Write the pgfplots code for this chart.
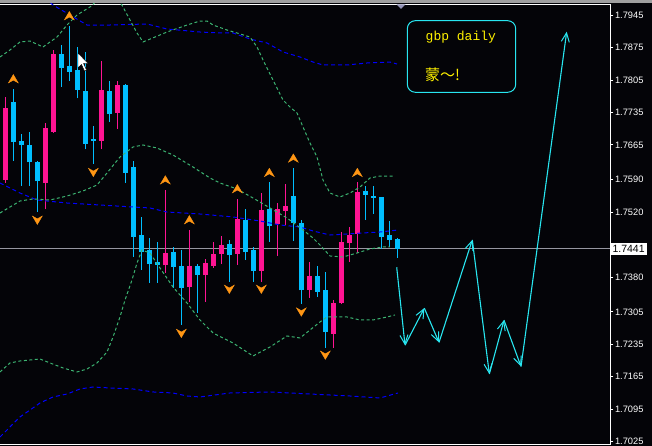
\documentclass[border=0pt]{standalone}
\usepackage{fontspec}
\setmainfont{Liberation Sans}
\newfontfamily\monofont{Liberation Mono}
\newfontfamily\cjk{Noto Sans CJK SC}
\usepackage{pgfplots}
\usepackage{pgfplotstable}
\pgfplotsset{compat=1.18}
\usetikzlibrary{arrows.meta}

\definecolor{bg}{RGB}{4,4,8}
\definecolor{bull}{RGB}{255,20,147}
\definecolor{bear}{RGB}{0,191,255}
\definecolor{bbgreen}{RGB}{60,179,113}
\definecolor{envblue}{RGB}{0,0,255}
\definecolor{frac}{RGB}{255,150,20}
\definecolor{fc}{RGB}{40,230,240}
\definecolor{pline}{RGB}{150,150,160}

% fractal arrows
\pgfdeclareplotmark{fracup}{%
  \pgfpathmoveto{\pgfqpoint{0pt}{4.5pt}}%
  \pgfpathlineto{\pgfqpoint{5pt}{-4pt}}%
  \pgfpathlineto{\pgfqpoint{0pt}{-1.2pt}}%
  \pgfpathlineto{\pgfqpoint{-5pt}{-4pt}}%
  \pgfpathclose\pgfusepathqfillstroke}
\pgfdeclareplotmark{fracdown}{%
  \pgfpathmoveto{\pgfqpoint{0pt}{-4.5pt}}%
  \pgfpathlineto{\pgfqpoint{5pt}{4pt}}%
  \pgfpathlineto{\pgfqpoint{0pt}{1.2pt}}%
  \pgfpathlineto{\pgfqpoint{-5pt}{4pt}}%
  \pgfpathclose\pgfusepathqfillstroke}

% down candles (open above close)
\pgfplotstableread{
i o h l c
2 1.7757 1.7785 1.7631 1.7671
3 1.7673 1.7688 1.7577 1.7665
4 1.7665 1.7693 1.7577 1.7627
5 1.7628 1.7630 1.7520 1.7586
8 1.7861 1.7880 1.7790 1.7831
9 1.7835 1.7921 1.7803 1.7823
10 1.7827 1.7876 1.7765 1.7784
11 1.7781 1.7865 1.7655 1.7667
12 1.7678 1.7706 1.7624 1.7674
14 1.7781 1.7803 1.7715 1.7732
16 1.7794 1.7796 1.7583 1.7605
17 1.7617 1.7630 1.7424 1.7467
18 1.7471 1.7510 1.7395 1.7435
19 1.7438 1.7464 1.7368 1.7408
20 1.7412 1.7456 1.7368 1.7406
22 1.7435 1.7445 1.7357 1.7402
23 1.7404 1.7438 1.7277 1.7357
25 1.7404 1.7408 1.7302 1.7384
29 1.7451 1.7460 1.7370 1.7428
31 1.7503 1.7527 1.7417 1.7435
32 1.7438 1.7444 1.7370 1.7394
34 1.7527 1.7585 1.7456 1.7491
37 1.7555 1.7615 1.7458 1.7497
38 1.7497 1.7503 1.7322 1.7351
40 1.7382 1.7404 1.7338 1.7348
41 1.7352 1.7391 1.7228 1.7262
46 1.7566 1.7576 1.7503 1.7557
47 1.7555 1.7576 1.7516 1.7550
48 1.7553 1.7553 1.7440 1.7466
49 1.7471 1.7501 1.7445 1.7460
50 1.7462 1.7464 1.7421 1.7441
}\bear

% up candles
\pgfplotstableread{
i o h l c
1 1.7589 1.7768 1.7583 1.7745
6 1.7583 1.7712 1.7526 1.7701
7 1.7693 1.7870 1.7691 1.7861
13 1.7674 1.7846 1.7655 1.7783
15 1.7734 1.7803 1.7700 1.7794
21 1.7405 1.7568 1.7389 1.7432
24 1.7359 1.7481 1.7327 1.7404
26 1.7384 1.7419 1.7327 1.7410
27 1.7404 1.7456 1.7400 1.7430
28 1.7430 1.7468 1.7408 1.7449
30 1.7430 1.7548 1.7406 1.7505
33 1.7394 1.7562 1.7370 1.7525
35 1.7494 1.7540 1.7426 1.7527
36 1.7523 1.7581 1.7492 1.7534
39 1.7353 1.7412 1.7335 1.7382
42 1.7258 1.7331 1.7228 1.7324
43 1.7323 1.7477 1.7321 1.7456
44 1.7453 1.7488 1.7412 1.7471
45 1.7473 1.7585 1.7432 1.7563
}\bull

\begin{document}
\begin{tikzpicture}
\path[use as bounding box, fill=bg] (0,0) rectangle (652pt,446pt);
\begin{axis}[
  at={(-2pt,2pt)}, anchor=south west,
  scale only axis, width=612.3pt, height=440pt,
  xmin=0.083, xmax=76.62, ymin=1.70200, ymax=1.79687,
  axis line style={white, line width=0.9pt},
  xtick=\empty,
  ytick={1.7025,1.7095,1.7165,1.7235,1.7305,1.7380,1.7520,1.7590,1.7665,1.7735,1.7805,1.7875,1.7945},
  yticklabels={1.7025,1.7095,1.7165,1.7235,1.7305,1.7380,1.7520,1.7590,1.7665,1.7735,1.7805,1.7875,1.7945},
  ytick pos=right, yticklabel pos=right,
  tick align=outside, major tick length=3pt,
  every tick/.style={white, line width=0.8pt},
  yticklabel style={text=white, font=\fontsize{9.3}{10}\selectfont, inner sep=1.5pt},
  /pgf/number format/assume math mode=true,
  clip mode=individual,
  candle/.style={only marks, mark size=0pt, mark options={draw=none, fill=none}, forget plot},
]

% current price line
\addplot[pline, line width=0.8pt, forget plot] coordinates {(0.083,1.7441) (76.62,1.7441)};

% wicks
\addplot[candle,
  error bars/.cd, y dir=plus, y explicit, error mark=none,
  error bar style={line width=1pt, bear}]
  table[x=i, y=l, y error plus expr=\thisrow{h}-\thisrow{l}] {\bear};
\addplot[candle,
  error bars/.cd, y dir=plus, y explicit, error mark=none,
  error bar style={line width=1pt, bull}]
  table[x=i, y=l, y error plus expr=\thisrow{h}-\thisrow{l}] {\bull};
% bodies
\addplot[candle,
  error bars/.cd, y dir=plus, y explicit, error mark=none,
  error bar style={line width=5.5pt, bear}]
  table[x=i, y=c, y error plus expr=\thisrow{o}-\thisrow{c}] {\bear};
\addplot[candle,
  error bars/.cd, y dir=plus, y explicit, error mark=none,
  error bar style={line width=5.5pt, bull}]
  table[x=i, y=o, y error plus expr=\thisrow{c}-\thisrow{o}] {\bull};

% envelope (blue)
\addplot[envblue, line width=1pt, dash pattern=on 4pt off 3pt] coordinates {
(5.96,1.79816) (6.96,1.79665) (11.21,1.79234) (14.08,1.79234) (18.71,1.79256)
(21.21,1.79148) (25.33,1.79083) (27.83,1.79062) (29.46,1.79062) (31.58,1.78932)
(33.71,1.78846) (35.71,1.78652) (37.83,1.78544) (39.46,1.78436) (40.71,1.78372)
(43.71,1.78372) (46.21,1.78415) (49.08,1.78436) (49.96,1.78393)};
\addplot[envblue, line width=1pt, dash pattern=on 4pt off 3pt] coordinates {
(0.33,1.75828) (2.83,1.75612) (4.96,1.75461) (8.71,1.75396) (12.83,1.75353)
(16.96,1.75310) (19.08,1.75289) (21.21,1.75202) (25.33,1.75159) (29.46,1.75095)
(32.83,1.75008) (35.33,1.74922) (37.83,1.74879) (39.46,1.74793) (41.58,1.74706)
(43.71,1.74728) (45.71,1.74750) (47.83,1.74771) (50.08,1.74814)};
\addplot[envblue, line width=1pt, dash pattern=on 4pt off 3pt] coordinates {
(0.33,1.70351) (1.58,1.70567) (2.83,1.70783) (4.08,1.70933) (5.33,1.71084)
(6.96,1.71214) (8.71,1.71278) (10.33,1.71386) (11.96,1.71429) (14.08,1.71408)
(16.96,1.71386) (19.46,1.71322) (21.96,1.71300) (23.71,1.71235) (25.33,1.71214)
(29.08,1.71300) (34.08,1.71322) (39.08,1.71278) (44.08,1.71235) (47.83,1.71192)
(50.08,1.71300)};

% bollinger (green)
\addplot[bbgreen, line width=1pt, dash pattern=on 3pt off 2.5pt] coordinates {
(0.33,1.78544) (1.58,1.78695) (2.83,1.78868) (4.08,1.78889) (5.71,1.78760)
(7.46,1.78975) (8.71,1.79234) (9.96,1.79450) (11.58,1.79622) (12.83,1.79816)
(14.33,1.79838) (15.58,1.79665) (16.58,1.79342) (17.46,1.79062) (18.21,1.78868)
(19.71,1.78975) (21.21,1.79083) (23.71,1.79234) (25.33,1.79320) (26.21,1.79320)
(26.96,1.79234) (28.71,1.79126) (29.96,1.79062) (31.58,1.78975) (32.46,1.78760)
(33.21,1.78480) (34.46,1.78048) (35.71,1.77617) (36.58,1.77466) (37.46,1.77337)
(38.21,1.77035) (39.08,1.76690) (39.96,1.76388) (40.71,1.75892) (41.58,1.75612)
(42.83,1.75526) (44.08,1.75612) (45.33,1.75741) (46.58,1.75935) (47.83,1.75978)
(49.46,1.75978)};
\addplot[bbgreen, line width=1pt, dash pattern=on 3pt off 2.5pt] coordinates {
(0.33,1.75181) (1.58,1.75310) (2.83,1.75439) (4.46,1.75483) (6.58,1.75461)
(8.71,1.75547) (10.71,1.75655) (12.46,1.75784) (13.71,1.76043) (15.33,1.76388)
(16.96,1.76604) (18.21,1.76647) (19.96,1.76582) (21.96,1.76431) (24.46,1.76172)
(26.58,1.75935) (27.83,1.75828) (29.96,1.75698) (31.96,1.75504) (34.08,1.75289)
(36.21,1.75073) (38.21,1.74814) (39.46,1.74642) (40.33,1.74491) (41.58,1.74254)
(43.21,1.74232) (44.96,1.74318) (46.58,1.74405) (48.21,1.74448) (49.08,1.74448)};
\addplot[bbgreen, line width=1pt, dash pattern=on 3pt off 2.5pt] coordinates {
(0.33,1.71753) (1.58,1.71947) (2.83,1.71990) (5.33,1.72033) (6.58,1.71947)
(8.21,1.71839) (9.96,1.71753) (11.21,1.71817) (12.46,1.71947) (13.71,1.72184)
(14.46,1.72507) (15.33,1.72939) (15.96,1.73305) (16.83,1.73736) (17.46,1.74103)
(18.08,1.74383) (19.08,1.74318) (20.33,1.73995) (21.96,1.73585) (23.71,1.73240)
(25.33,1.72874) (26.96,1.72594) (29.46,1.72378) (31.96,1.72098) (34.08,1.72292)
(36.21,1.72529) (37.83,1.72486) (39.08,1.72658) (40.33,1.72831) (41.21,1.72939)
(43.71,1.72939) (45.33,1.72874) (46.96,1.72874) (48.71,1.72939) (49.71,1.72982)};

% fractals
\addplot[only marks, mark=fracup, frac, mark options={fill=frac, line width=0.3pt}] coordinates {
(2,1.7807) (9,1.7943) (21,1.7589) (24,1.7503) (30,1.7570) (34,1.7605) (37,1.7636) (45,1.7605)};
\addplot[only marks, mark=fracdown, frac, mark options={fill=frac, line width=0.3pt}] coordinates {
(5,1.7503) (12,1.7606) (23,1.7259) (29,1.7354) (33,1.7354) (38,1.7305) (41,1.7212)};

% forecast path
\pgfplotsset{fcast/.style={fc, line width=1.1pt, -{Straight Barb[length=9pt,width=8pt,line width=1pt]}}}
\addplot[fcast] coordinates {(49.92,1.7401) (50.96,1.7233)};
\addplot[fcast] coordinates {(50.96,1.7233) (53.37,1.7313)};
\addplot[fcast] coordinates {(53.37,1.7313) (55.21,1.7239)};
\addplot[fcast] coordinates {(55.21,1.7239) (59.37,1.7460)};
\addplot[fcast] coordinates {(59.37,1.7460) (61.50,1.7171)};
\addplot[fcast] coordinates {(61.50,1.7171) (63.33,1.7287)};
\addplot[fcast] coordinates {(63.33,1.7287) (65.46,1.7187)};
\addplot[fcast] coordinates {(65.46,1.7187) (71.17,1.7909)};

% price label
\node[fill=white, text=black, anchor=west, inner xsep=2pt, inner ysep=2.5pt,
  font=\fontsize{10.5}{11}\selectfont] at (axis cs:76.62,1.7441) {1.7441};
\end{axis}

% top strip and marker
\fill[gray!75] (0,443pt) rectangle (652pt,446pt);
\fill[gray!80!blue!70] (396.5pt,441.5pt) -- (405.5pt,441.5pt) -- (401pt,437pt) -- cycle;

% note box
\draw[fc, line width=1pt, rounded corners=8pt, fill=bg] (407.3pt,425.3pt) rectangle (515.7pt,353.7pt);
\node[anchor=base west, inner sep=0pt, text=yellow, font=\monofont\fontsize{13}{13}\selectfont] at (425.5pt,405.3pt) {gbp daily};
\node[anchor=base west, inner sep=0pt, text=yellow, font=\cjk\fontsize{15}{15}\selectfont] at (425pt,365pt) {蒙～!};

% mouse pointer
\filldraw[fill=white, draw=black, line width=0.4pt]
  (78pt,393pt) -- (78pt,378pt) -- (81.5pt,381.5pt) -- (84.5pt,375pt) -- (86.5pt,376pt)
  -- (83.5pt,382.5pt) -- (88pt,382.5pt) -- cycle;
\end{tikzpicture}
\end{document}
